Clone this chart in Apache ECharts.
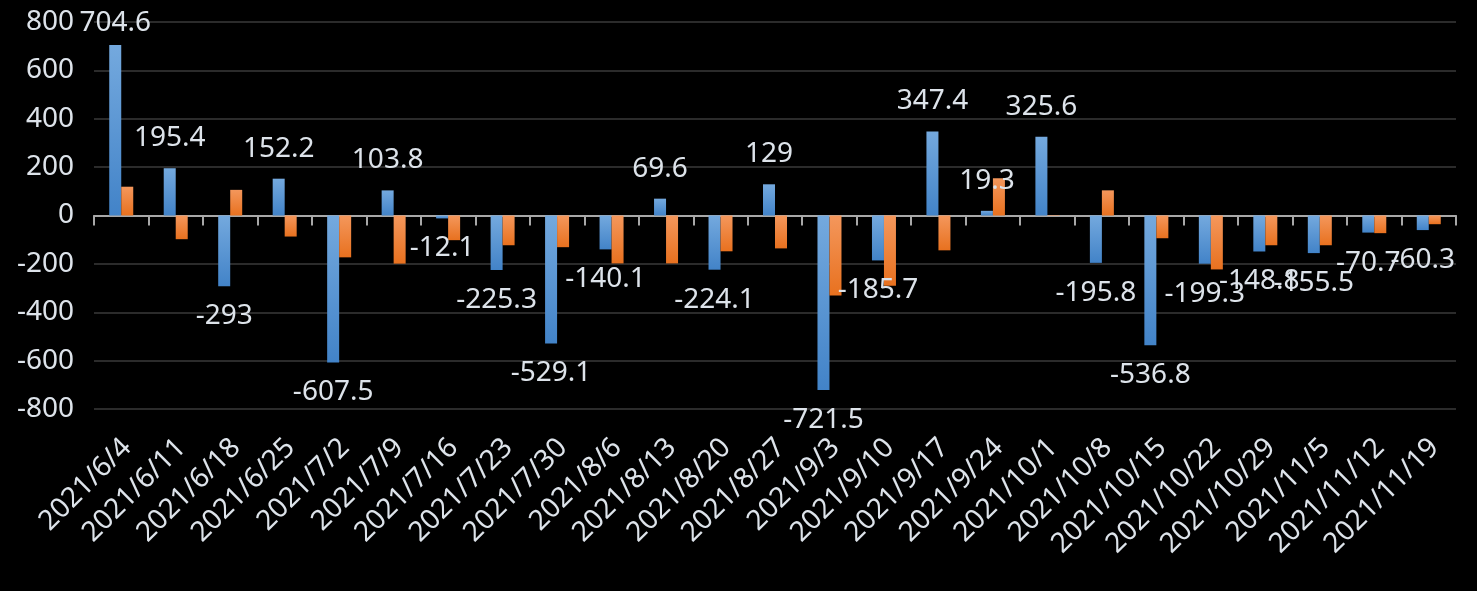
<!DOCTYPE html>
<html>
<head>
<meta charset="utf-8">
<script src="https://cdn.jsdelivr.net/npm/echarts@6/dist/echarts.min.js"></script>
<style>
html,body{margin:0;padding:0;background:#000;}
#chart{width:1477px;height:591px;}
</style>
</head>
<body>
<div id="chart"></div>
<script>
const categories = ['2021/6/4','2021/6/11','2021/6/18','2021/6/25','2021/7/2','2021/7/9','2021/7/16','2021/7/23','2021/7/30','2021/8/6','2021/8/13','2021/8/20','2021/8/27','2021/9/3','2021/9/10','2021/9/17','2021/9/24','2021/10/1','2021/10/8','2021/10/15','2021/10/22','2021/10/29','2021/11/5','2021/11/12','2021/11/19'];
const blueValues = [704.6,195.4,-293,152.2,-607.5,103.8,-12.1,-225.3,-529.1,-140.1,69.6,-224.1,129,-721.5,-185.7,347.4,19.3,325.6,-195.8,-536.8,-199.3,-148.8,-155.5,-70.7,-60.3];
const orangeValues = [119,-98,106,-87,-173,-199,-102,-123,-131,-198,-198,-148,-136,-331,-290,-144,154,-2,104,-94,-223,-123,-123,-73,-36];
const yTicks = {min:-800, max:800, interval:200};

const textColor = '#dde3ea';
const fontFamily = '"Noto Sans", "Noto Sans CJK TC", sans-serif';

const chart = echarts.init(document.getElementById('chart'));
const blueData = blueValues.map(v => ({
  value: v,
  label: {position: v >= 0 ? 'top' : 'bottom'}
}));

chart.setOption({
  backgroundColor: '#000',
  animation: false,
  grid: {left: 94, right: 21, top: 22, bottom: 182, containLabel: false},
  xAxis: [
    {
      type: 'category', data: categories, position: 'bottom',
      axisLine: {show: false, onZero: false},
      axisTick: {show: false},
      splitLine: {show: false},
      axisLabel: {
        interval: 0, rotate: 45, margin: 40, fontSize: 28,
        color: textColor, fontFamily: fontFamily,
        padding: [17, -8, 0, 0]
      }
    },
    {
      type: 'category', data: categories, position: 'bottom',
      axisLine: {show: true, onZero: true, lineStyle: {color: '#a8a8a8', width: 2}},
      axisTick: {show: true, length: 10, interval: 0, lineStyle: {color: '#a8a8a8', width: 2}},
      axisLabel: {show: false},
      splitLine: {show: false}
    }
  ],
  yAxis: {
    type: 'value', min: yTicks.min, max: yTicks.max, interval: yTicks.interval,
    axisLine: {show: false},
    axisTick: {show: false},
    axisLabel: {fontSize: 28, color: textColor, fontFamily: fontFamily, margin: 20},
    splitLine: {lineStyle: {color: '#2b2b2b', width: 2}}
  },
  series: [
    {
      type: 'bar', name: 'A', xAxisIndex: 0, data: blueData,
      barWidth: 12, barGap: '0%',
      itemStyle: {
        color: new echarts.graphic.LinearGradient(0, 0, 0, 1, [
          {offset: 0, color: '#74a9de'},
          {offset: 1, color: '#4283c8'}
        ])
      },
      label: {
        show: true, distance: 16, fontSize: 28, color: textColor,
        fontFamily: fontFamily
      },
      labelLayout: function (p) {
        if (p.labelRect.y < 9) return {dy: 9 - p.labelRect.y};
        return {};
      }
    },
    {
      type: 'bar', name: 'B', xAxisIndex: 0, data: orangeValues,
      barWidth: 12, barGap: '0%',
      itemStyle: {
        color: new echarts.graphic.LinearGradient(0, 0, 0, 1, [
          {offset: 0, color: '#f4975c'},
          {offset: 1, color: '#e8711f'}
        ])
      }
    }
  ]
});
</script>
</body>
</html>
